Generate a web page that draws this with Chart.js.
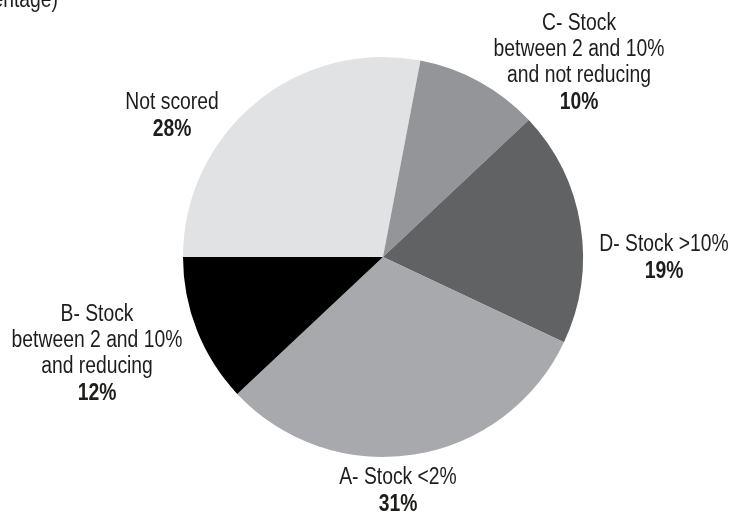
<!DOCTYPE html>
<html>
<head>
<meta charset="utf-8">
<script src="https://cdn.jsdelivr.net/npm/chart.js@4"></script>
<style>
  body { margin: 0; background: #fff; }
  canvas { display: block; }
</style>
</head>
<body>
<canvas id="stockPie" width="734" height="515"></canvas>
<script>
// data, clockwise from 12 o'clock minus a quarter turn
var categories = ['Not scored', 'C- Stock\nbetween 2 and 10%\nand not reducing', 'D- Stock >10%', 'A- Stock <2%', 'B- Stock\nbetween 2 and 10%\nand reducing'];
var shares = [28, 10, 19, 31, 12];
var sliceColors = ['#e1e2e3', '#939598', '#616264', '#a7a9ac', '#000000'];

// where each label block sits, in pie radii from the centre (x, first line y)
var labelOffsets = [[-1.055, -0.77], [0.98, -1.165], [1.405, -0.06], [0.075, 1.105], [-1.43, 0.29]];

// no condensed face installed, so squeeze Liberation Sans sideways
var fontFamily = "'Liberation Sans', Arial, sans-serif";
var squeeze = 0.84;

// draws the text labels and the clipped title fragment
var pieLabels = {
  id: 'pieLabels',
  afterDraw: function(chart) {
    var ctx = chart.ctx;
    var arcs = chart.getDatasetMeta(0).data;
    ctx.save();
    ctx.scale(squeeze, 1);
    ctx.fillStyle = '#1d1d1b';
    ctx.textAlign = 'center';
    ctx.textBaseline = 'middle';
    arcs.forEach(function(arc, i) {
      var cx = (arc.x + labelOffsets[i][0] * arc.outerRadius) / squeeze;
      var y = arc.y + labelOffsets[i][1] * arc.outerRadius;
      var lines = categories[i].split('\n');
      ctx.font = '23px ' + fontFamily;
      lines.forEach(function(line) {
        ctx.fillText(line, cx, y);
        y += 26;
      });
      ctx.font = 'bold 23px ' + fontFamily;
      ctx.fillText(shares[i] + '%', cx, y + 1);
    });
    // title is cut off by the left edge in the source
    ctx.font = '23px ' + fontFamily;
    ctx.textAlign = 'right';
    ctx.textBaseline = 'alphabetic';
    ctx.fillText('(percentage)', 58 / squeeze, 7);
    ctx.restore();
  }
};

var stockPie = new Chart(document.getElementById('stockPie'), {
  type: 'pie',
  data: {
    labels: categories,
    datasets: [{
      data: shares,
      backgroundColor: sliceColors,
      borderWidth: 0
    }]
  },
  options: {
    responsive: false,
    animation: false,
    rotation: -90,
    layout: {
      padding: { top: 57, bottom: 58, left: 32, right: 0 }
    },
    plugins: {
      legend: { display: false },
      tooltip: { enabled: false }
    }
  },
  plugins: [pieLabels]
});
</script>
</body>
</html>
